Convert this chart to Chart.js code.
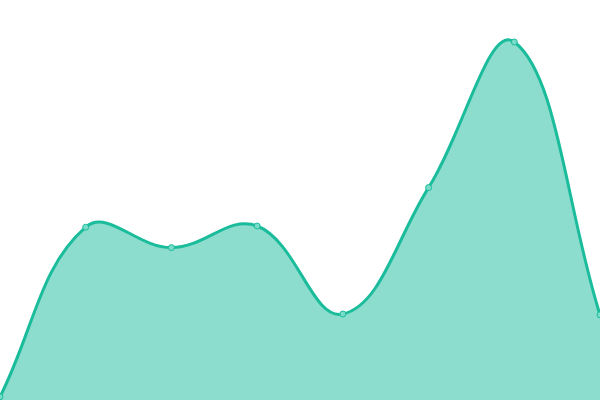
<!DOCTYPE html>
<html>
<head>
<meta charset="utf-8">
<script src="https://cdn.jsdelivr.net/npm/chart.js@4"></script>
<style>
  html, body { margin: 0; padding: 0; background: #fff; }
  #wrap { width: 600px; height: 400px; }
</style>
</head>
<body>
<div id="wrap"><canvas id="chart"></canvas></div>
<script>
// --- data ---
const labels = ['1', '2', '3', '4', '5', '6', '7', '8'];
const values = [0.8, 43.2, 38.1, 43.5, 21.5, 53.1, 89.5, 21.3];

const ctx = document.getElementById('chart').getContext('2d');
new Chart(ctx, {
    type: 'line',
    data: {
        labels: labels,
        datasets: [{
            data: values,
            borderColor: '#1abc9c',
            backgroundColor: 'rgba(26, 188, 156, 0.5)',
            borderWidth: 3,
            fill: true,
            tension: 0.4,
            pointRadius: 3,
            pointBorderWidth: 1,
            pointBackgroundColor: 'rgba(120, 220, 200, 1)',
            pointBorderColor: '#1abc9c'
        }]
    },
    options: {
        responsive: true,
        maintainAspectRatio: false,
        animation: false,
        layout: { padding: 0, autoPadding: false },
        plugins: { legend: { display: false }, tooltip: { enabled: false } },
        scales: {
            x: { display: false },
            y: { display: false, min: 0, max: 100 }
        }
    }
});
</script>
</body>
</html>
